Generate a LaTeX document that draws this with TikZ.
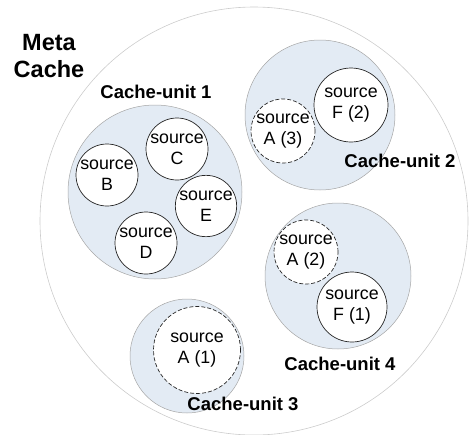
\documentclass[tikz,border=0pt]{standalone}
\usepackage{fontspec}
\setmainfont{Liberation Sans}
\definecolor{unitblue}{HTML}{E3EBF4}
\begin{document}
\begin{tikzpicture}[x=1pt,y=-1pt,
  meta/.style={draw=black!20, line width=0.6pt, circle, inner sep=0pt},
  unit/.style={draw=black!35, fill=unitblue, circle, inner sep=0pt, line width=0.5pt},
  src/.style={draw=black!85, fill=white, circle, inner sep=0pt, line width=0.7pt, align=center,
    font=\fontsize{17.8}{21}\selectfont},
  cached/.style={src, dash pattern=on 4pt off 2pt},
  ulabel/.style={font=\fontsize{18.5}{22}\selectfont\bfseries, inner sep=0pt},
]
\useasboundingbox (0,0) rectangle (471,434);
\node[meta, minimum size=428pt] (meta) at (254,221) {};
% units
\node[unit, minimum size=174pt] (u1) at (155,192) {};
\node[unit, minimum size=150pt] (u2) at (320,115) {};
\node[unit, minimum size=146pt] (u4) at (338,276) {};
\node[unit, minimum size=114pt] (u3) at (187,356) {};
% sources unit 1
\node[src, minimum size=62pt] (sB) at (107,175) {source\\B};
\node[src, minimum size=62pt] (sC) at (177,149) {source\\C};
\node[src, minimum size=60pt] (sE) at (206,206) {source\\E};
\node[src, minimum size=62pt] (sD) at (146,243) {source\\D};
% unit 2
\node[src, minimum size=74pt] (sF2) at (351,105) {source\\F (2)};
\node[cached, minimum size=64pt] (sA3) at (283,131) {source\\A (3)};
% unit 4
\node[cached, minimum size=64pt] (sA2) at (306,252) {source\\A (2)};
\node[src, minimum size=70pt] (sF1) at (352,307) {source\\F (1)};
% unit 3
\node[cached, minimum size=87pt] (sA1) at (197,350) {source\\A (1)};
% labels
\node[font=\fontsize{23.5}{27}\selectfont\bfseries, align=center, inner sep=0pt] (lmeta) at (49,56) {Meta\\Cache};
\node[ulabel] (l1) at (156,92) {Cache-unit 1};
\node[ulabel] (l2) at (400,161) {Cache-unit 2};
\node[ulabel] (l4) at (340,364) {Cache-unit 4};
\node[ulabel] (l3) at (243,404) {Cache-unit 3};
\end{tikzpicture}
\end{document}
